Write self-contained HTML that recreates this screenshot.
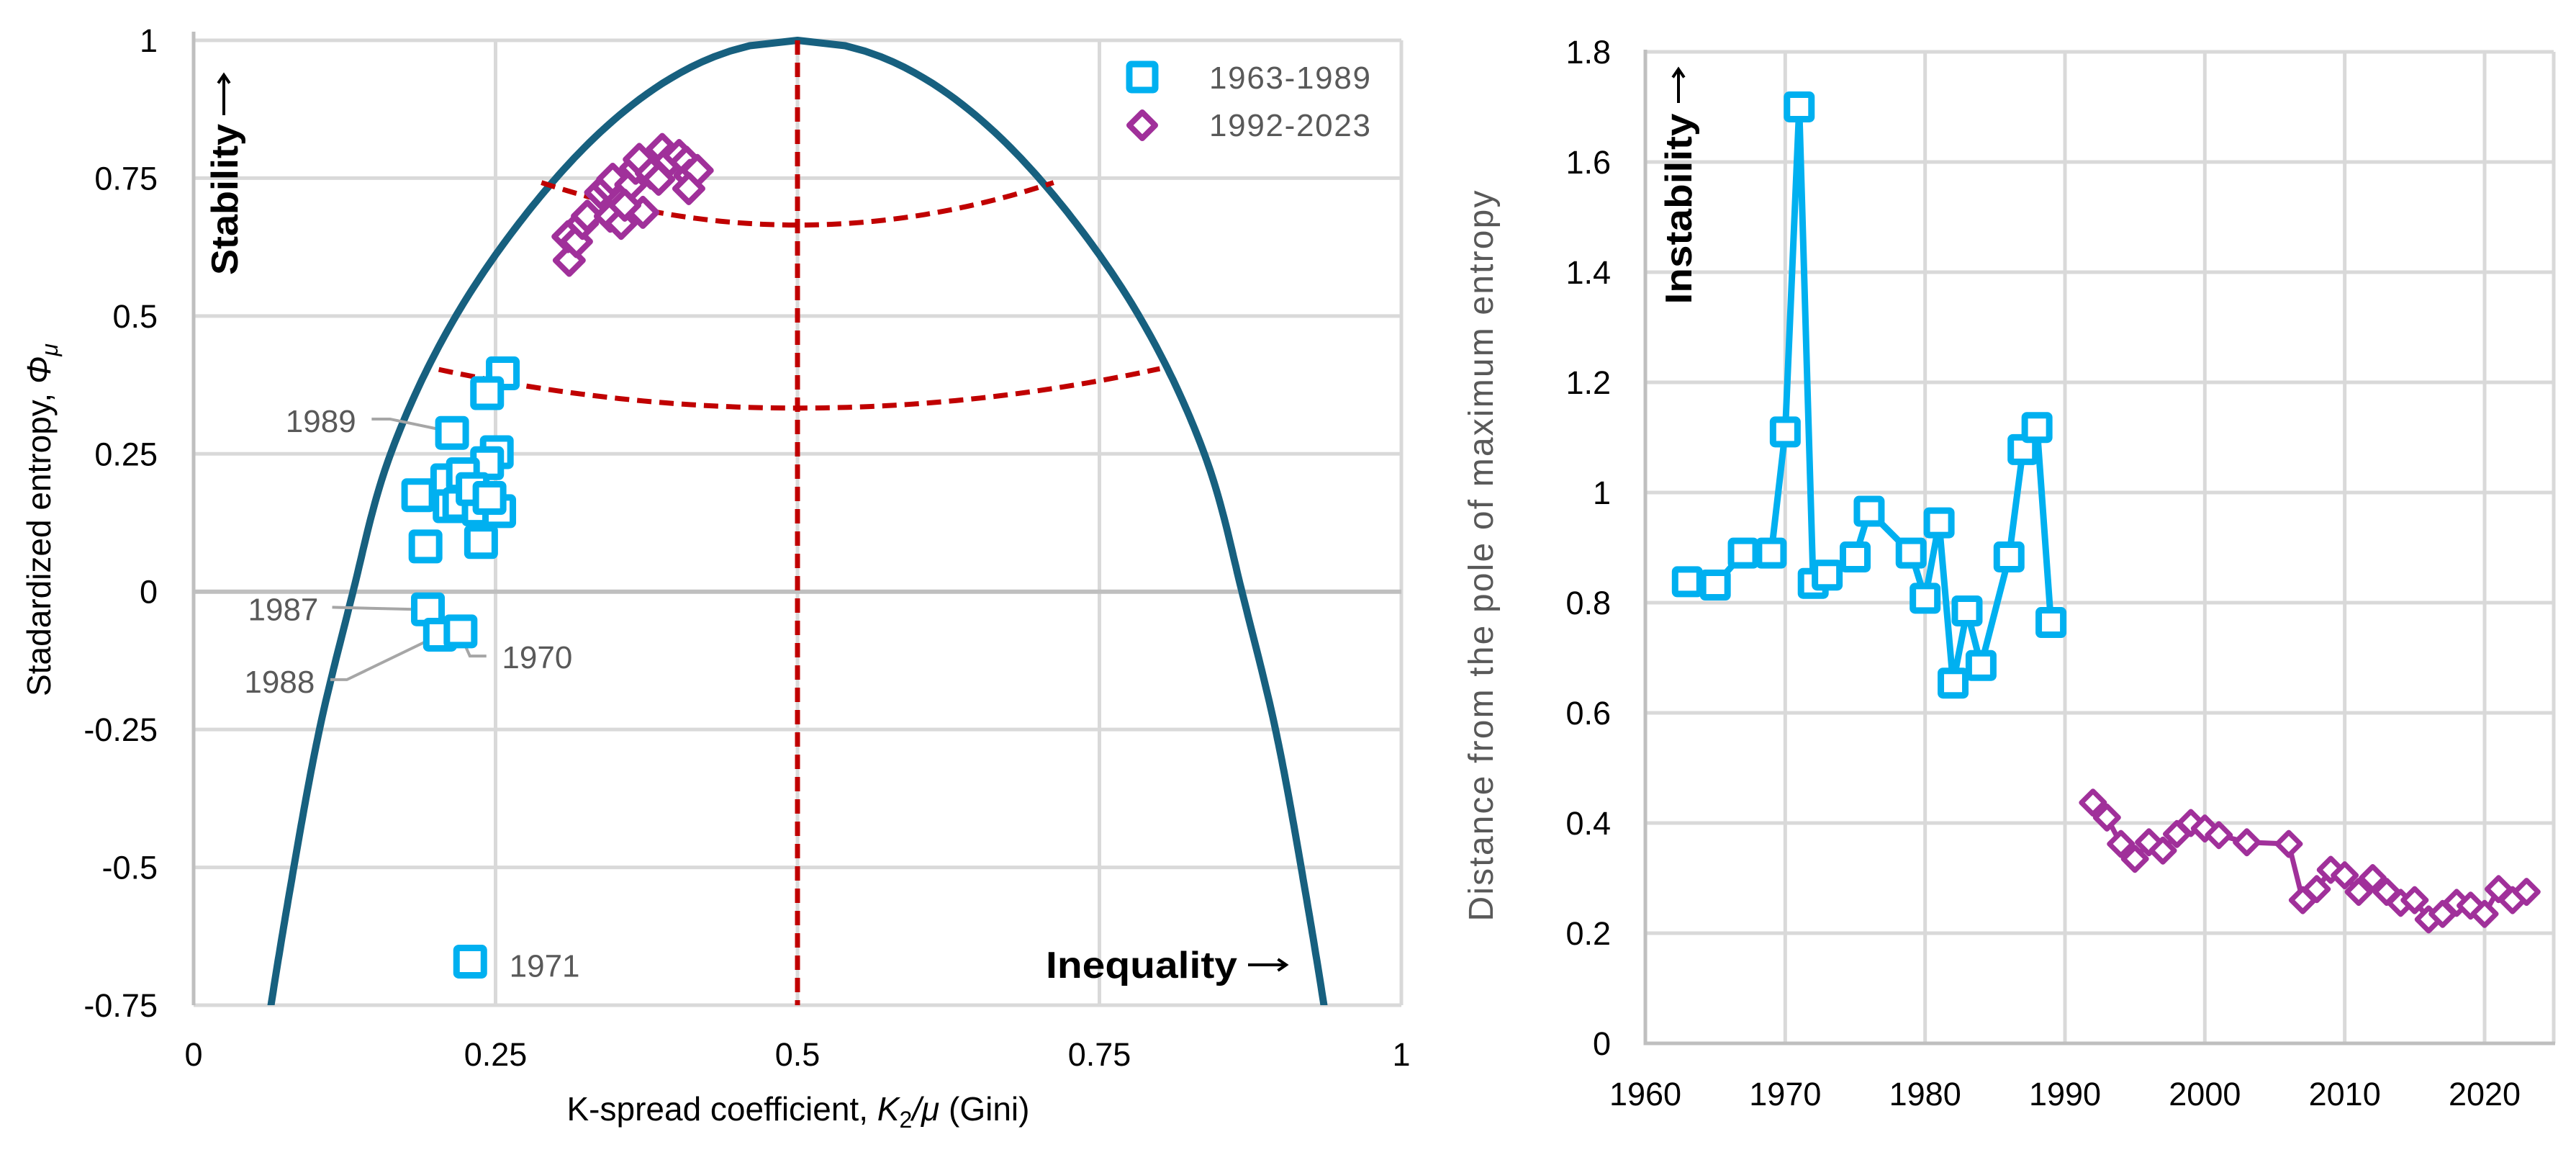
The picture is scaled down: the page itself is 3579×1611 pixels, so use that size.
<!DOCTYPE html>
<html><head><meta charset="utf-8">
<style>
html,body{margin:0;padding:0;background:#fff;}
svg{display:block;font-family:"Liberation Sans",sans-serif;}
</style></head>
<body>
<svg id="fig" width="3579" height="1611" viewBox="0 0 3579 1611" xmlns="http://www.w3.org/2000/svg">
<g id="left"></g>
<g id="right"></g>
</svg>
<script>
// ---------- LEFT CHART DATA ----------
const xTicksL = [0, 0.25, 0.5, 0.75, 1];
const xTickLabelsL = ["0", "0.25", "0.5", "0.75", "1"];
const yTicksL = [1, 0.75, 0.5, 0.25, 0, -0.25, -0.5, -0.75];
const yTickLabelsL = ["1", "0.75", "0.5", "0.25", "0", "-0.25", "-0.5", "-0.75"];
const giniBlue = [0.256,0.243,0.214,0.251,0.243,0.186,0.210,0.223,0.212,0.220,0.236,0.253,0.238,0.192,0.194,0.204,0.221,0.229,0.231,0.245];
const phiBlue  = [0.396,0.360,0.288,0.253,0.233,0.175,0.202,0.213,0.155,0.159,0.149,0.146,0.090,0.082,-0.032,-0.078,-0.072,-0.671,0.186,0.170];
const giniPurple = [0.311,0.310,0.317,0.322,0.326,0.337,0.343,0.347,0.345,0.354,0.362,0.366,0.369,0.372,0.379,0.388,0.394,0.402,0.408,0.411,0.417,0.410,0.385,0.357];
const phiPurple  = [0.601,0.644,0.635,0.668,0.681,0.724,0.735,0.748,0.681,0.668,0.738,0.768,0.784,0.688,0.759,0.802,0.782,0.791,0.779,0.755,0.764,0.731,0.748,0.701];
// boundary curve shape: half-width factor w(phi), u = w*sqrt(1-phi)
const boundPhi = [1, 0.75, 0.5, 0.25, 0, -0.25, -0.5, -0.75, -1];
const boundW   = [0.8, 0.8, 0.8, 0.778, 0.736, 0.708, 0.681, 0.659, 0.64];

// ---------- RIGHT CHART DATA ----------
const xTicksR = [1960,1970,1980,1990,2000,2010,2020];
const yTicksR = [0,0.2,0.4,0.6,0.8,1,1.2,1.4,1.6,1.8];
const yTickLabelsR = ["0","0.2","0.4","0.6","0.8","1","1.2","1.4","1.6","1.8"];
const yearsBlue = [1963,1965,1967,1969,1970,1971,1972,1973,1975,1976,1979,1980,1981,1982,1983,1984,1986,1987,1988,1989];
const distBlue  = [0.838,0.832,0.89,0.89,1.11,1.70,0.835,0.85,0.883,0.966,0.89,0.808,0.945,0.654,0.785,0.686,0.883,1.078,1.118,0.764];
const yearsPurple = [1992,1993,1994,1995,1996,1997,1998,1999,2000,2001,2003,2006,2007,2008,2009,2010,2011,2012,2013,2014,2015,2016,2017,2018,2019,2020,2021,2022,2023];
const distPurple  = [0.437,0.41,0.362,0.335,0.365,0.35,0.38,0.40,0.39,0.378,0.365,0.362,0.26,0.28,0.315,0.305,0.275,0.30,0.275,0.255,0.26,0.225,0.235,0.255,0.25,0.235,0.28,0.26,0.275];

const NS = "http://www.w3.org/2000/svg";
function mk(parent, tag, attrs, text){
  const e = document.createElementNS(NS, tag);
  for (const k in attrs) e.setAttribute(k, attrs[k]);
  if (text !== undefined) e.textContent = text;
  parent.appendChild(e);
  return e;
}
const BLUE="#00b0f0", PURPLE="#a0309a", GRID="#d9d9d9", AXIS="#bfbfbf", CURVE="#17607f", RED="#c00000";

function arrow(parent,x1,y1,x2,y2,name){
  const g = mk(parent,'g',{});
  
  
  mk(g,'line',{x1:x1,y1:y1,x2:x2,y2:y2,stroke:'#000','stroke-width':4});
  const a=Math.atan2(y2-y1,x2-x1), h=14;
  const p1=[x2-h*Math.cos(a-0.6),y2-h*Math.sin(a-0.6)], p2=[x2-h*Math.cos(a+0.6),y2-h*Math.sin(a+0.6)];
  mk(g,'polyline',{points:`${p1[0]},${p1[1]} ${x2},${y2} ${p2[0]},${p2[1]}`,fill:'none',stroke:'#000','stroke-width':4});
  return g;
}

// ===== LEFT =====
const L = document.getElementById('left');
const lx0=269, lx1=1947, ly1=56, lyB=1396;
const sxL = v => lx0 + v*(lx1-lx0);
const syL = v => ly1 + (1-v)*(lyB-ly1)/1.75;

xTicksL.forEach((t,i)=>{
  if(i===0) return;
  const g = mk(L,'line',{x1:sxL(t),x2:sxL(t),y1:ly1,y2:lyB,stroke:GRID,'stroke-width':5});
  
  
});
yTicksL.forEach(t=>{
  const g = mk(L,'line',{x1:lx0,x2:lx1,y1:syL(t),y2:syL(t),stroke:t===0?AXIS:GRID,'stroke-width':t===0?6:5});
  
  
});
{
  const a = mk(L,'line',{x1:lx0,x2:lx0,y1:ly1-12,y2:lyB,stroke:AXIS,'stroke-width':5});
  
  
}
yTicksL.forEach((t,i)=>{
  const e = mk(L,'text',{x:219,y:syL(t)+16,'text-anchor':'end','font-size':45,fill:'#000'},yTickLabelsL[i]);
  
  
});
xTicksL.forEach((t,i)=>{
  const e = mk(L,'text',{x:sxL(t),y:1480,'text-anchor':'middle','font-size':45,fill:'#000'},xTickLabelsL[i]);
  
  
});
const defs = mk(document.getElementById('fig'),'defs',{});
const cp = mk(defs,'clipPath',{id:'clipL'});
mk(cp,'rect',{x:lx0,y:ly1-20,width:lx1-lx0,height:lyB-ly1+20});

// boundary curve
(function(){
  function wAt(phi){
    // Catmull-Rom 1D interpolation on uniform phi grid (descending)
    const n=boundPhi.length, step=boundPhi[0]-boundPhi[1];
    let f=(boundPhi[0]-phi)/step; let i=Math.min(n-2,Math.max(0,Math.floor(f))); const t=f-i;
    const p0=boundW[Math.max(0,i-1)],p1=boundW[i],p2=boundW[i+1],p3=boundW[Math.min(n-1,i+2)];
    return 0.5*((2*p1)+(-p0+p2)*t+(2*p0-5*p1+4*p2-p3)*t*t+(-p0+3*p1-3*p2+p3)*t*t*t);
  }
  const left=[], right=[];
  for(let k=0;k<=200;k++){
    const phi=1-k*1.95/200;
    const u=wAt(phi)*Math.sqrt(1-phi);
    left.push([sxL(0.5-u*0.5),syL(phi)]);
    right.push([sxL(0.5+u*0.5),syL(phi)]);
  }
  const pts=left.reverse().concat(right.slice(1));
  const c = mk(L,'polyline',{points:pts.map(p=>p[0].toFixed(1)+','+p[1].toFixed(1)).join(' '),fill:'none',stroke:CURVE,'stroke-width':10,'stroke-linejoin':'round','clip-path':'url(#clipL)'});
  
  
})();
{
  const v = mk(L,'line',{x1:sxL(0.5),x2:sxL(0.5),y1:syL(1),y2:lyB,stroke:RED,'stroke-width':7,'stroke-dasharray':'20 11'});
  
  
  const arcs=[[0.288,0.712,0.665,0.742],[0.203,0.80,0.333,0.403]];
  arcs.forEach((a,k)=>{
    const c=(a[3]-a[2])/Math.pow(0.5-a[0],2);
    let d='';
    for(let i=0;i<=60;i++){
      const x=a[0]+(a[1]-a[0])*i/60;
      const y=a[2]+c*Math.pow(x-0.5,2);
      d+=(i?' L':'M')+sxL(x)+','+syL(y);
    }
    const p = mk(L,'path',{d:d,fill:'none',stroke:RED,'stroke-width':7,'stroke-dasharray':'20 11'});
    
    
  });
}
function square(parent,cx,cy,s,sw){
  return mk(parent,'rect',{x:cx-s/2,y:cy-s/2,width:s,height:s,rx:3,fill:'#fff',stroke:BLUE,'stroke-width':sw});
}
function diamond(parent,cx,cy,r,sw){
  return mk(parent,'path',{d:`M${cx},${cy-r} L${cx+r},${cy} L${cx},${cy+r} L${cx-r},${cy} Z`,fill:'#fff',stroke:PURPLE,'stroke-width':sw,'stroke-linejoin':'round'});
}
const ox = dx => 269+(dx-211)*1.2751, oy = dy => 56+(dy-52)*1.0253;
[[[405,565],[425,565],[483,580]],[[362,820],[460,823]],[[360,918],[378,918],[478,858]],[[530,886],[512,886],[502,858]]].forEach(l=>{
  const p = mk(L,'polyline',{points:l.map(q=>ox(q[0])+','+oy(q[1])).join(' '),fill:'none',stroke:'#a6a6a6','stroke-width':4});
  
  
});
giniBlue.forEach((g,i)=>{
  const m = square(L,sxL(g),syL(phiBlue[i]),38,9);
  
  
});
giniPurple.forEach((g,i)=>{
  const m = diamond(L,sxL(g),syL(phiPurple[i]),19,8);
  
  
});
[["1989",388,567,'end'],["1987",347,822,'end'],["1988",343,920,'end'],["1970",547,887,'start'],["1971",555,1305,'start']].forEach(a=>{
  const t = mk(L,'text',{x:ox(a[1]),y:oy(a[2])+16,'text-anchor':a[3],'font-size':44,fill:'#595959'},a[0]);
  
  
});
{
  const s = square(L,1587,107,36,9);  
  const d = diamond(L,1587,174,18,8);  
  const t1 = mk(L,'text',{x:1680,y:123,'font-size':44,fill:'#595959',textLength:224},"1963-1989");
   
  const t2 = mk(L,'text',{x:1680,y:189,'font-size':44,fill:'#595959',textLength:224},"1992-2023");
   
}
{
  const t = mk(L,'text',{x:1453,y:1358,'font-size':52,'font-weight':'bold',fill:'#000',textLength:266,lengthAdjust:'spacingAndGlyphs'},"Inequality");
   
  arrow(L,1734,1340,1787,1340,'inequality-arrow');
  const s = mk(L,'text',{x:0,y:0,'text-anchor':'middle','font-size':52,'font-weight':'bold',fill:'#000',transform:'translate(330,277) rotate(-90)',textLength:210,lengthAdjust:'spacingAndGlyphs'},"Stability");
   
  arrow(L,311,160,311,104,'stability-arrow');
  const yt = mk(L,'text',{x:0,y:0,'text-anchor':'middle','font-size':46,fill:'#000',transform:'translate(70,722) rotate(-90)'});
   
  yt.appendChild(document.createTextNode('Stadardized entropy, '));
  mk(yt,'tspan',{'font-style':'italic'},'Φ');
  mk(yt,'tspan',{'font-style':'italic','font-size':32,dy:10},'μ');
  const xt = mk(L,'text',{x:1109,y:1556,'text-anchor':'middle','font-size':46,fill:'#000'});
   
  xt.appendChild(document.createTextNode('K-spread coefficient, '));
  mk(xt,'tspan',{'font-style':'italic'},'K');
  mk(xt,'tspan',{'font-size':32,dy:10},'2');
  mk(xt,'tspan',{dy:-10,'font-style':'italic'},'/μ');
  mk(xt,'tspan',{},' (Gini)');
}

// ===== RIGHT =====
const R = document.getElementById('right');
const rx0=2286, rx1=3548, ry0=1449, ryT=72;
const sxR = v => rx0 + (v-1960)*(3452-2286)/60;
const syR = v => ry0 - v*(ry0-ryT)/1.8;
yTicksR.forEach((t,i)=>{
  if(t!==0){
    const g = mk(R,'line',{x1:rx0,x2:rx1,y1:syR(t),y2:syR(t),stroke:GRID,'stroke-width':5});
     
  }
  const e = mk(R,'text',{x:2238,y:syR(t)+16,'text-anchor':'end','font-size':45,fill:'#000'},yTickLabelsR[i]);
   
});
xTicksR.forEach(t=>{
  if(t!==1960){
    const g = mk(R,'line',{x1:sxR(t),x2:sxR(t),y1:ryT,y2:ry0,stroke:GRID,'stroke-width':5});
     
  }
  const e = mk(R,'text',{x:sxR(t),y:1535,'text-anchor':'middle','font-size':45,fill:'#000'},String(t));
   
});
{
  const g = mk(R,'line',{x1:rx1,x2:rx1,y1:ryT,y2:ry0,stroke:GRID,'stroke-width':5});
   
  const a = mk(R,'polyline',{points:`${rx0},${ryT-3} ${rx0},${ry0} ${rx1+2},${ry0}`,fill:'none',stroke:AXIS,'stroke-width':5});
   
}
{
  const lb = mk(R,'polyline',{points:yearsBlue.map((y,i)=>sxR(y)+','+syR(distBlue[i])).join(' '),fill:'none',stroke:BLUE,'stroke-width':9,'stroke-linejoin':'round'});
   
  const lp = mk(R,'polyline',{points:yearsPurple.map((y,i)=>sxR(y)+','+syR(distPurple[i])).join(' '),fill:'none',stroke:PURPLE,'stroke-width':7,'stroke-linejoin':'round'});
   
}
yearsBlue.forEach((y,i)=>{
  const m = square(R,sxR(y),syR(distBlue[i]),34,9);
   
});
yearsPurple.forEach((y,i)=>{
  const m = diamond(R,sxR(y),syR(distPurple[i]),16,7);
   
});
{
  const t = mk(R,'text',{x:0,y:0,'text-anchor':'middle','font-size':52,'font-weight':'bold',fill:'#000',transform:'translate(2350,290) rotate(-90)',textLength:265,lengthAdjust:'spacingAndGlyphs'},"Instability");
   
  arrow(R,2332,143,2332,96,'instability-arrow');
  const yt = mk(R,'text',{x:0,y:0,'text-anchor':'middle','font-size':48,fill:'#595959',transform:'translate(2074,772) rotate(-90)',textLength:1015},"Distance from the pole of maximum entropy");
   
}
</script>
</body></html>
